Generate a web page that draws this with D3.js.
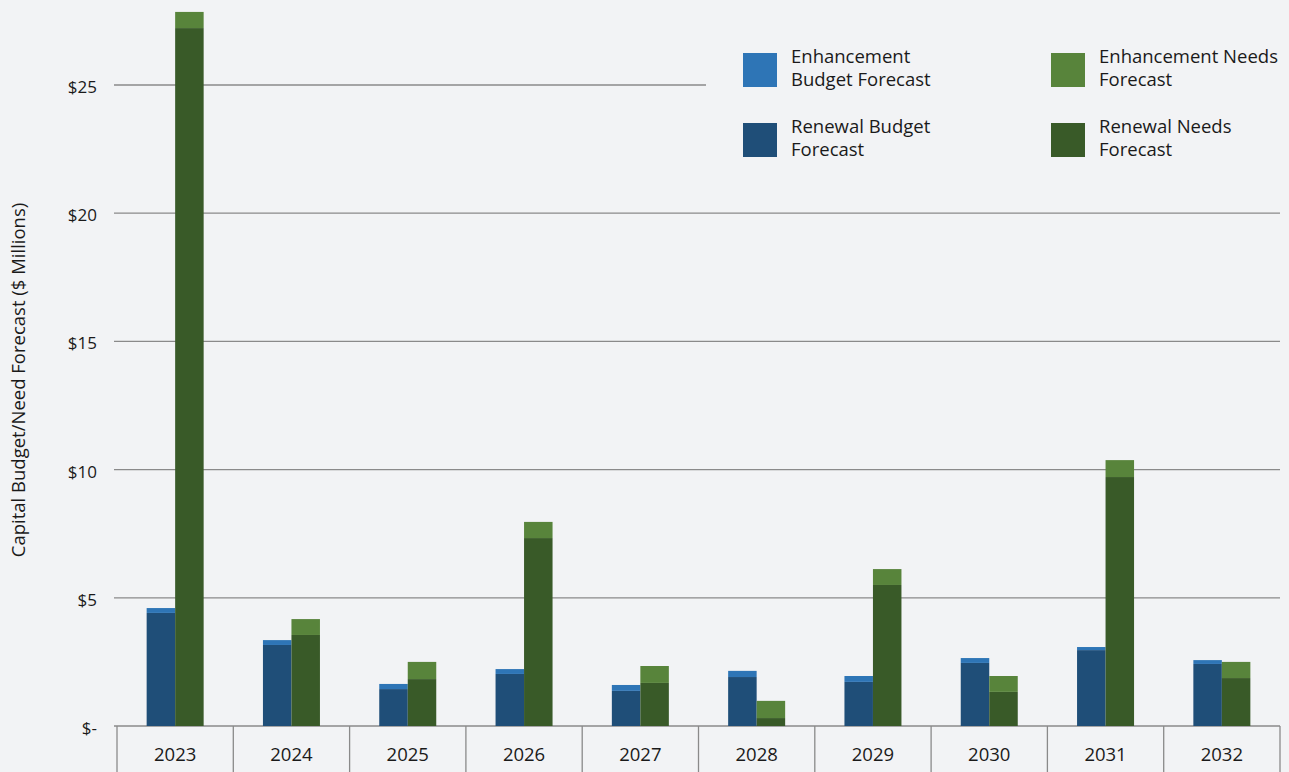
<!DOCTYPE html>
<html lang="en">
  <head>
    <script src="https://d3js.org/d3.v7.min.js"></script>
    <meta charset="utf-8">
    <style>
      body { margin: 0; background: #f2f3f5; }
      svg { display: block; font-family: "Open Sans", "Noto Sans", sans-serif; }
      .grid line { stroke: #8a8a8a; stroke-width: 1.3; }
      .tick-label { font-size: 17px; fill: #1a1a1a; }
      .legend text { font-size: 18.5px; fill: #1a1a1a; }
    </style>
    <title></title>
  </head>
  <body>
    <svg id="chart" width="1289" height="772"></svg>
  </body>
</html>

<script>
    // data ($ millions)
    const years = ["2023", "2024", "2025", "2026", "2027", "2028", "2029", "2030", "2031", "2032"];
    const renewalBudget     = [4.41, 3.16, 1.44, 2.03, 1.37, 1.91, 1.72, 2.46, 2.96, 2.42];
    const enhancementBudget = [0.19, 0.19, 0.20, 0.19, 0.23, 0.24, 0.23, 0.19, 0.12, 0.15];
    const renewalNeeds      = [27.22, 3.55, 1.83, 7.33, 1.68, 0.31, 5.50, 1.33, 9.71, 1.87];
    const enhancementNeeds  = [0.63, 0.62, 0.67, 0.63, 0.66, 0.67, 0.62, 0.62, 0.66, 0.63];
    const yTicks = [0, 5, 10, 15, 20, 25];

    const colors = {
        enhBudget: "#2e75b6",
        renBudget: "#1f4e78",
        enhNeeds: "#58843b",
        renNeeds: "#395a28"
    };

    const svg = d3.select("#chart");

    const x = d3.scaleBand()
        .domain(years)
        .range([117, 1280]);

    const y = d3.scaleLinear()
        .domain([0, 28])
        .range([726, 726 - 28 * 25.64]);

    const barW = 28.5;

    // gridlines
    const grid = svg.append("g").attr("class", "grid");
    grid.selectAll("line")
        .data(yTicks)
        .enter().append("line")
        .attr("x1", 114)
        .attr("x2", 1280)
        .attr("y1", d => y(d))
        .attr("y2", d => y(d));

    // category separators under the axis
    grid.selectAll("line.sep")
        .data(years.concat(["end"]))
        .enter().append("line")
        .attr("class", "sep")
        .attr("x1", (d, i) => i < years.length ? x(d) : x.range()[1])
        .attr("x2", (d, i) => i < years.length ? x(d) : x.range()[1])
        .attr("y1", y(0))
        .attr("y2", 772);

    // y tick labels
    svg.append("g").selectAll("text")
        .data(yTicks)
        .enter().append("text")
        .attr("class", "tick-label")
        .attr("x", 97)
        .attr("y", d => y(d) + 8)
        .attr("text-anchor", "end")
        .text(d => d === 0 ? "$-" : "$" + d);

    // x labels
    svg.append("g").selectAll("text")
        .data(years)
        .enter().append("text")
        .attr("class", "tick-label")
        .attr("x", d => x(d) + x.bandwidth() / 2)
        .attr("y", 761)
        .attr("text-anchor", "middle")
        .style("font-size", "18.5px")
        .text(d => d);

    // y axis title
    svg.append("text")
        .attr("transform", "translate(25,380) rotate(-90)")
        .attr("text-anchor", "middle")
        .style("font-size", "18.5px")
        .style("fill", "#1a1a1a")
        .text("Capital Budget/Need Forecast ($ Millions)");

    // stacked bars
    const rows = years.map((yr, i) => ({
        year: yr,
        renBudget: renewalBudget[i],
        enhBudget: enhancementBudget[i],
        renNeeds: renewalNeeds[i],
        enhNeeds: enhancementNeeds[i]
    }));

    const groups = [
        { keys: ["renBudget", "enhBudget"], offset: -barW },
        { keys: ["renNeeds", "enhNeeds"], offset: 0 }
    ];

    groups.forEach(g => {
        const series = d3.stack().keys(g.keys)(rows);
        svg.append("g").selectAll("g")
            .data(series)
            .enter().append("g")
            .attr("fill", d => colors[d.key])
            .selectAll("rect")
            .data(d => d)
            .enter().append("rect")
            .attr("x", d => x(d.data.year) + x.bandwidth() / 2 + g.offset)
            .attr("width", barW)
            .attr("y", d => y(d[1]))
            .attr("height", d => y(d[0]) - y(d[1]));
    });

    // legend (its background hides the gridline behind it)
    const legend = svg.append("g").attr("class", "legend");
    legend.append("rect")
        .attr("x", 706).attr("y", 30)
        .attr("width", 583).attr("height", 140)
        .attr("fill", "#f2f3f5");

    const legendItems = [
        { key: "enhBudget", lines: ["Enhancement", "Budget Forecast"], lx: 743, ly: 53 },
        { key: "enhNeeds", lines: ["Enhancement Needs", "Forecast"], lx: 1051, ly: 53 },
        { key: "renBudget", lines: ["Renewal Budget", "Forecast"], lx: 743, ly: 123 },
        { key: "renNeeds", lines: ["Renewal Needs", "Forecast"], lx: 1051, ly: 123 }
    ];

    const li = legend.selectAll("g.item")
        .data(legendItems)
        .enter().append("g")
        .attr("class", "item");

    li.append("rect")
        .attr("x", d => d.lx)
        .attr("y", d => d.ly)
        .attr("width", 34)
        .attr("height", 34)
        .attr("fill", d => colors[d.key]);

    li.append("text")
        .attr("x", d => d.lx + 48)
        .attr("y", d => d.ly + 10)
        .selectAll("tspan")
        .data(d => d.lines.map((t, i) => ({ t, i, d })))
        .enter().append("tspan")
        .attr("x", d => d.d.lx + 48)
        .attr("dy", d => d.i === 0 ? 0 : 23)
        .text(d => d.t);
</script>
